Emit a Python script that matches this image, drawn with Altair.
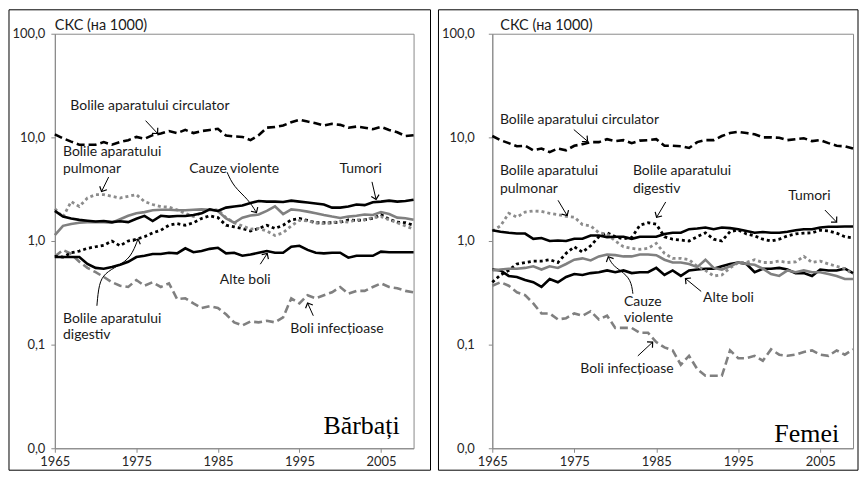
import math
import altair as alt
import pandas as pd

years = list(range(1965, 2010))

# ---- Bărbați ----
m_circ = [10.7, 9.8, 9.1, 8.5, 8.5, 8.5, 9.0, 8.5, 9.0, 9.4,
          10.1, 9.7, 10.5, 10.9, 11.5, 11.0, 11.8, 11.0, 11.5, 11.8,
          12.1, 10.4, 10.2, 10.1, 9.4, 10.5, 12.4, 12.6, 13.0, 14.0,
          14.8, 14.2, 13.7, 13.0, 13.5, 13.2, 12.4, 12.7, 12.4, 12.0,
          12.6, 11.8, 11.2, 10.3, 10.5]
m_tum = [1.95, 1.72, 1.65, 1.6, 1.57, 1.54, 1.56, 1.52, 1.55, 1.52,
         1.64, 1.75, 1.56, 1.75, 1.72, 1.74, 1.74, 1.78, 1.85, 2.02,
         1.95, 2.1, 2.15, 2.2, 2.33, 2.43, 2.4, 2.4, 2.38, 2.45,
         2.4, 2.35, 2.3, 2.25, 2.1, 2.1, 2.15, 2.25, 2.22, 2.37,
         2.4, 2.45, 2.4, 2.43, 2.5]
m_viol = [1.14, 1.4, 1.46, 1.5, 1.52, 1.52, 1.52, 1.5, 1.62, 1.75,
          1.85, 1.9, 1.98, 2.0, 2.0, 1.98, 1.98, 2.0, 2.02, 2.0,
          1.95, 1.65, 1.5, 1.68, 1.76, 1.8, 1.95, 2.16, 1.82, 2.02,
          1.98, 1.92, 1.85, 1.78, 1.72, 1.67, 1.72, 1.75, 1.8, 1.78,
          1.9, 1.82, 1.68, 1.66, 1.6]
m_pulm = [2.05, 1.7, 2.4, 2.15, 2.6, 2.8, 2.8, 2.7, 2.6, 2.7,
          2.8, 2.4, 2.25, 2.15, 2.12, 2.0, 1.85, 1.72, 1.87, 2.0,
          2.0, 1.68, 1.5, 1.4, 1.3, 1.32, 1.25, 1.13, 1.2, 1.4,
          1.58, 1.56, 1.5, 1.47, 1.5, 1.55, 1.52, 1.6, 1.6, 1.68,
          1.72, 1.6, 1.5, 1.4, 1.3]
m_dig = [0.71, 0.70, 0.77, 0.8, 0.85, 0.88, 0.91, 1.0, 0.9, 1.0,
         1.04, 1.1, 1.2, 1.27, 1.42, 1.47, 1.42, 1.5, 1.65, 1.75,
         1.68, 1.42, 1.37, 1.32, 1.25, 1.32, 1.42, 1.32, 1.42, 1.6,
         1.65, 1.58, 1.5, 1.5, 1.5, 1.52, 1.6, 1.58, 1.6, 1.65,
         1.8, 1.62, 1.52, 1.5, 1.42]
m_alte = [0.7, 0.7, 0.7, 0.7, 0.6, 0.55, 0.54, 0.56, 0.59, 0.63,
          0.7, 0.72, 0.75, 0.75, 0.77, 0.76, 0.85, 0.78, 0.8, 0.84,
          0.86, 0.76, 0.77, 0.72, 0.74, 0.77, 0.8, 0.77, 0.77, 0.88,
          0.9, 0.82, 0.77, 0.76, 0.77, 0.77, 0.69, 0.72, 0.72, 0.72,
          0.79, 0.78, 0.78, 0.78, 0.78]
m_inf = [0.71, 0.82, 0.75, 0.63, 0.55, 0.5, 0.45, 0.4, 0.37, 0.36,
         0.42, 0.37, 0.4, 0.36, 0.39, 0.275, 0.28, 0.25, 0.226, 0.235,
         0.226, 0.196, 0.164, 0.153, 0.167, 0.164, 0.17, 0.164, 0.183, 0.28,
         0.25, 0.3, 0.28, 0.3, 0.32, 0.36, 0.31, 0.33, 0.33, 0.36,
         0.39, 0.36, 0.35, 0.33, 0.32]

# ---- Femei ----
f_circ = [10.3, 9.4, 8.8, 8.2, 8.3, 7.5, 7.8, 7.2, 7.8, 7.5,
          8.3, 8.6, 9.0, 9.0, 9.6, 9.2, 9.4, 8.8, 9.3, 9.4,
          9.6, 8.3, 8.3, 8.2, 7.9, 9.0, 9.4, 9.4, 10.3, 11.0,
          11.3, 11.0, 10.7, 10.0, 10.0, 9.9, 9.4, 9.6, 9.8, 9.2,
          9.4, 8.8, 8.3, 8.2, 7.8]
f_tum = [1.27, 1.23, 1.2, 1.18, 1.18, 1.05, 1.07, 1.0, 1.01, 1.0,
         1.05, 1.05, 1.13, 1.13, 1.09, 1.1, 1.1, 1.05, 1.1, 1.1,
         1.1, 1.17, 1.2, 1.2, 1.3, 1.32, 1.35, 1.3, 1.35, 1.33,
         1.3, 1.25, 1.2, 1.22, 1.2, 1.2, 1.23, 1.27, 1.3, 1.3,
         1.35, 1.37, 1.37, 1.38, 1.38]
f_dig = [0.40, 0.47, 0.52, 0.6, 0.62, 0.64, 0.64, 0.66, 0.62, 0.76,
         0.88, 0.78, 0.9, 1.1, 1.2, 1.1, 1.05, 1.08, 1.42, 1.5,
         1.45, 1.1, 1.04, 1.02, 1.0, 1.1, 1.2, 1.04, 1.0, 1.23,
         1.28, 1.17, 1.12, 1.04, 1.0, 1.04, 1.12, 1.17, 1.19, 1.2,
         1.27, 1.25, 1.19, 1.1, 1.07]
f_pulm = [1.25, 1.4, 1.85, 1.7, 1.9, 1.95, 1.93, 1.85, 1.8, 1.73,
          1.7, 1.44, 1.4, 1.2, 1.17, 1.0, 0.88, 0.85, 0.83, 0.85,
          0.95, 0.76, 0.68, 0.68, 0.66, 0.57, 0.52, 0.46, 0.47, 0.55,
          0.62, 0.62, 0.66, 0.62, 0.62, 0.64, 0.62, 0.63, 0.71, 0.62,
          0.64, 0.6, 0.57, 0.54, 0.48]
f_viol = [0.52, 0.53, 0.54, 0.54, 0.55, 0.57, 0.53, 0.57, 0.55, 0.6,
          0.66, 0.68, 0.65, 0.71, 0.74, 0.73, 0.71, 0.71, 0.74, 0.74,
          0.73, 0.66, 0.62, 0.62, 0.6, 0.56, 0.66, 0.55, 0.53, 0.57,
          0.62, 0.6, 0.59, 0.54, 0.48, 0.46, 0.52, 0.5, 0.52, 0.5,
          0.5, 0.48, 0.46, 0.43, 0.43]
f_alte = [0.53, 0.52, 0.46, 0.45, 0.42, 0.4, 0.36, 0.43, 0.4, 0.45,
          0.48, 0.47, 0.49, 0.5, 0.52, 0.5, 0.52, 0.49, 0.5, 0.5,
          0.55, 0.47, 0.52, 0.46, 0.52, 0.53, 0.54, 0.54, 0.57, 0.6,
          0.62, 0.6, 0.5, 0.54, 0.54, 0.55, 0.53, 0.49, 0.49, 0.46,
          0.53, 0.52, 0.52, 0.54, 0.49]
f_inf = [0.37, 0.4, 0.37, 0.32, 0.3, 0.25, 0.2, 0.2, 0.175, 0.18,
         0.2, 0.19, 0.21, 0.175, 0.19, 0.145, 0.145, 0.145, 0.13, 0.13,
         0.106, 0.094, 0.088, 0.064, 0.078, 0.058, 0.05, 0.05, 0.05, 0.088,
         0.074, 0.074, 0.078, 0.07, 0.09, 0.08, 0.078, 0.08, 0.085, 0.088,
         0.08, 0.078, 0.088, 0.08, 0.09]

# annotations: (label, year, value)
m_text_left = [("Bolile aparatului circulator", 1966.9, 19.9),
               ("Bolile aparatului", 1966.0, 7.24), ("pulmonar", 1966.0, 4.92),
               ("Bolile aparatului", 1966.0, 0.175), ("digestiv", 1966.0, 0.124)]
m_text_center = [("Cauze violente", 1987.0, 4.92), ("Tumori", 2002.5, 4.92),
                 ("Alte boli", 1988.35, 0.423), ("Boli infecțioase", 1999.6, 0.141)]
m_arrows = [[(1976.13, 14.5), (1977.6, 10.9)],
            [(1971.6, 4.14), (1970.73, 3.0)],
            [(1986.13, 4.61), (1986.93, 3.34), (1988.73, 2.52), (1989.73, 1.88)],
            [(2003.9, 3.72), (2004.4, 2.52)],
            [(1990.2, 0.597), (1991.05, 0.757)],
            [(1970.16, 0.237), (1970.4, 0.388), (1971.12, 0.489), (1972.72, 0.575),
             (1974.33, 0.689), (1975.2, 1.045)],
            [(1996.7, 0.19), (1996.0, 0.252)]]

f_text_left = [("Bolile aparatului circulator", 1965.93, 14.7),
               ("Bolile aparatului", 1965.93, 4.71), ("pulmonar", 1965.93, 3.2),
               ("Bolile aparatului", 1982.15, 4.71), ("digestiv", 1982.15, 3.2),
               ("Cauze", 1981.07, 0.259), ("violente", 1981.07, 0.18)]
f_text_center = [("Tumori", 2003.67, 2.69), ("Alte boli", 1993.81, 0.282),
                 ("Boli infecțioase", 1981.43, 0.0576)]
f_arrows = [[(1974.94, 11.9), (1976.62, 9.17)],
            [(1973.02, 2.47), (1974.13, 1.76)],
            [(1986.15, 2.38), (1985.04, 1.69)],
            [(2005.57, 1.99), (2007.0, 1.52)],
            [(1982.15, 0.31), (1981.91, 0.425), (1980.71, 0.515), (1979.63, 0.586),
             (1979.15, 0.706)],
            [(1990.48, 0.326), (1988.56, 0.434)],
            [(1982.75, 0.0778), (1984.56, 0.1057)]]

GRAY = "#808080"
AX = "#8a8a8a"
FONT = "Lato"
styles = [  # key, color, dash, width
    ("circ", "black", [8, 4], 2.6),
    ("inf", GRAY, [8, 4], 2.6),
    ("alte", "black", None, 2.6),
    ("dig", "black", [3, 3], 2.8),
    ("pulm", "#8c8c8c", [3, 3], 2.8),
    ("viol", GRAY, None, 2.6),
    ("tum", "black", None, 2.6),
]

X0, X1 = 1965, 2009
LMIN, LMAX = -2, 2


def panel(series, t_left, t_center, arrows, name, W, H, fl, fr, lpad, name_dy, title_dx):
    rows = []
    for key, vals in series.items():
        assert len(vals) == len(years), key
        for yr, v in zip(years, vals):
            rows.append({"year": yr, "value": v, "s": key})
    df = pd.DataFrame(rows)

    xenc = alt.X("year:Q", scale=alt.Scale(domain=[X0, X1], nice=False, zero=False),
                 axis=alt.Axis(values=[1965, 1975, 1985, 1995, 2005], format="d", title=None,
                               labelFlush=False, labelPadding=3, grid=False))
    yenc = alt.Y("value:Q", scale=alt.Scale(type="log", domain=[0.01, 100], nice=False),
                 axis=alt.Axis(values=[0.01, 0.1, 1, 10, 100], title=None, grid=False,
                               labelFlush=False, labelPadding=lpad,
                               labelExpr="replace(format(datum.value, '.1f'), '.', ',')"))

    dummy = pd.DataFrame({"a": [0]})
    layers = [alt.Chart(dummy).mark_rect(fillOpacity=0, stroke="black", strokeWidth=1).encode(
        x=alt.value(fl), x2=alt.value(W + fr), y=alt.value(-24), y2=alt.value(H + 22))]

    base = alt.Chart(df).encode(x=xenc, y=yenc)
    for key, color, dash, sw in styles:
        kw = dict(color=color, strokeWidth=sw, strokeCap="butt")
        if dash:
            kw["strokeDash"] = dash
        layers.append(base.transform_filter(alt.datum.s == key).mark_line(**kw))

    tl = pd.DataFrame(t_left, columns=["label", "year", "value"])
    tc = pd.DataFrame(t_center, columns=["label", "year", "value"])
    for d, al in ((tl, "left"), (tc, "center")):
        layers.append(alt.Chart(d).mark_text(align=al, baseline="middle", font=FONT,
                                             fontSize=14, color="#1a1a1a").encode(
            x=xenc, y=yenc, text="label:N"))

    def px(yr, v):
        return ((yr - X0) / (X1 - X0) * W, (LMAX - math.log10(v)) / (LMAX - LMIN) * H)

    arows, heads = [], []
    for i, pts in enumerate(arrows):
        for j, (yr, v) in enumerate(pts):
            arows.append({"id": i, "o": j, "year": yr, "value": v})
        (xa, ya), (xb, yb) = px(*pts[-2]), px(*pts[-1])
        ang = math.degrees(math.atan2(yb - ya, xb - xa)) % 360
        heads.append({"year": pts[-1][0], "value": pts[-1][1], "ang": ang})
    layers.append(alt.Chart(pd.DataFrame(arows)).mark_line(
        color="black", strokeWidth=1, interpolate="basis").encode(
        x=xenc, y=yenc, detail="id:N", order="o:Q"))
    layers.append(alt.Chart(pd.DataFrame(heads)).mark_point(
        shape="M-1,-1L0,0L-1,1", filled=False, color="black", strokeWidth=1.2,
        size=64, opacity=1).encode(x=xenc, y=yenc, angle=alt.Angle("ang:Q", scale=None)))

    layers.append(alt.Chart(dummy).mark_text(text="СКС (на 1000)", align="left",
                                             baseline="alphabetic", font=FONT, fontSize=14.5,
                                             color="#1a1a1a").encode(
        x=alt.value(title_dx), y=alt.value(-4)))
    layers.append(alt.Chart(dummy).mark_text(text=name, align="right", baseline="alphabetic",
                                             font="Liberation Serif", fontSize=26,
                                             color="black").encode(
        x=alt.value(W - 14), y=alt.value(H - name_dy)))
    return alt.layer(*layers).properties(width=W, height=H)


left = panel({"circ": m_circ, "inf": m_inf, "alte": m_alte, "dig": m_dig,
              "pulm": m_pulm, "viol": m_viol, "tum": m_tum},
             m_text_left, m_text_center, m_arrows, "Bărbați",
             W=360, H=416, fl=-46, fr=17, lpad=6, name_dy=14, title_dx=0)
right = panel({"circ": f_circ, "inf": f_inf, "alte": f_alte, "dig": f_dig,
               "pulm": f_pulm, "viol": f_viol, "tum": f_tum},
              f_text_left, f_text_center, f_arrows, "Femei",
              W=362, H=416, fl=-54, fr=5, lpad=14, name_dy=6, title_dx=8)

chart = alt.hconcat(left, right, spacing=6).properties(
    padding={"left": 0, "right": 0, "top": 0, "bottom": 0}
).configure_view(stroke=AX, strokeWidth=1).configure_axis(
    domainColor=AX, tickColor=AX, tickSize=4, labelFont=FONT, labelFontSize=13,
    labelColor="#262626"
)

chart.save("out.html", embed_options={"renderer": "svg", "actions": False})
